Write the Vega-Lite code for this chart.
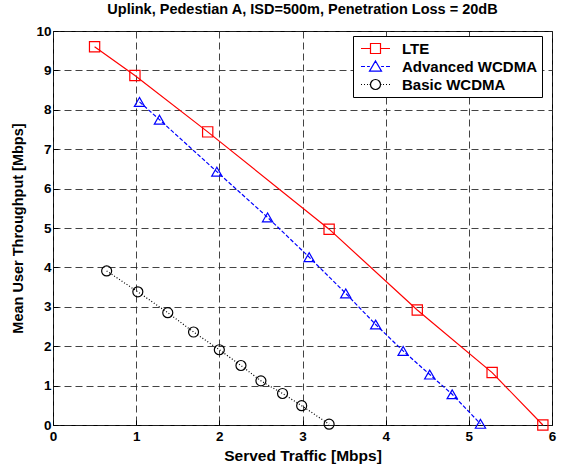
{
  "$schema": "https://vega.github.io/schema/vega-lite/v6.json",
  "width": 499,
  "height": 394,
  "autosize": "none",
  "padding": {"left": 53, "top": 31, "right": 10, "bottom": 41},
  "background": "white",
  "config": {
    "font": "Liberation Sans",
    "view": {"stroke": "black", "strokeWidth": 1}
  },
  "title": {
    "text": "Uplink, Pedestian A, ISD=500m, Penetration Loss = 20dB",
    "font": "Liberation Sans",
    "fontSize": 14.5,
    "fontWeight": "bold",
    "color": "black",
    "offset": 7,
    "anchor": "middle"
  },
  "data": {
    "values": [
      {"series": "LTE", "x": 0.50, "y": 9.60},
      {"series": "LTE", "x": 0.985, "y": 8.87},
      {"series": "LTE", "x": 1.86, "y": 7.44},
      {"series": "LTE", "x": 3.32, "y": 4.97},
      {"series": "LTE", "x": 4.38, "y": 2.92},
      {"series": "LTE", "x": 5.28, "y": 1.33},
      {"series": "LTE", "x": 5.89, "y": 0.0},
      {"series": "Advanced WCDMA", "x": 1.04, "y": 8.20},
      {"series": "Advanced WCDMA", "x": 1.28, "y": 7.75},
      {"series": "Advanced WCDMA", "x": 1.97, "y": 6.43},
      {"series": "Advanced WCDMA", "x": 2.58, "y": 5.27},
      {"series": "Advanced WCDMA", "x": 3.08, "y": 4.26},
      {"series": "Advanced WCDMA", "x": 3.52, "y": 3.34},
      {"series": "Advanced WCDMA", "x": 3.88, "y": 2.55},
      {"series": "Advanced WCDMA", "x": 4.21, "y": 1.88},
      {"series": "Advanced WCDMA", "x": 4.53, "y": 1.28},
      {"series": "Advanced WCDMA", "x": 4.80, "y": 0.78},
      {"series": "Advanced WCDMA", "x": 5.14, "y": 0.03},
      {"series": "Basic WCDMA", "x": 0.645, "y": 3.91},
      {"series": "Basic WCDMA", "x": 1.02, "y": 3.38},
      {"series": "Basic WCDMA", "x": 1.38, "y": 2.85},
      {"series": "Basic WCDMA", "x": 1.69, "y": 2.36},
      {"series": "Basic WCDMA", "x": 2.00, "y": 1.91},
      {"series": "Basic WCDMA", "x": 2.26, "y": 1.51},
      {"series": "Basic WCDMA", "x": 2.50, "y": 1.12},
      {"series": "Basic WCDMA", "x": 2.76, "y": 0.80},
      {"series": "Basic WCDMA", "x": 2.99, "y": 0.49},
      {"series": "Basic WCDMA", "x": 3.32, "y": 0.02}
    ]
  },
  "encoding": {
    "x": {
      "field": "x", "type": "quantitative",
      "scale": {"domain": [0, 6], "nice": false, "zero": false},
      "axis": {
        "title": "Served Traffic [Mbps]",
        "values": [0, 1, 2, 3, 4, 5, 6],
        "format": "d",
        "grid": true, "gridColor": "#222", "gridDash": [7, 4], "gridOpacity": 0.85, "gridWidth": 1,
        "domain": false,
        "tickColor": "black", "tickSize": -5, "tickWidth": 1,
        "labelFont": "Liberation Sans", "labelFontSize": 13.5, "labelFontWeight": "bold", "labelColor": "black",
        "labelPadding": 9,
        "labelFlush": false,
        "titleFont": "Liberation Sans", "titleFontSize": 15.5, "titleFontWeight": "bold", "titleColor": "black",
        "titlePadding": 6
      }
    },
    "y": {
      "field": "y", "type": "quantitative",
      "scale": {"domain": [0, 10], "nice": false, "zero": false},
      "axis": {
        "title": "Mean User Throughput [Mbps]",
        "values": [0, 1, 2, 3, 4, 5, 6, 7, 8, 9, 10],
        "format": "d",
        "grid": true, "gridColor": "#222", "gridDash": [7, 4], "gridOpacity": 0.85, "gridWidth": 1,
        "domain": false,
        "tickColor": "black", "tickSize": -5, "tickWidth": 1,
        "labelFont": "Liberation Sans", "labelFontSize": 13.5, "labelFontWeight": "bold", "labelColor": "black",
        "labelPadding": 7,
        "labelFlush": false,
        "titleFont": "Liberation Sans", "titleFontSize": 14.5, "titleFontWeight": "bold", "titleColor": "black",
        "titlePadding": 10
      }
    },
    "color": {
      "field": "series", "type": "nominal",
      "scale": {"domain": ["LTE", "Advanced WCDMA", "Basic WCDMA"], "range": ["#ff0000", "#0000ff", "#000000"]},
      "legend": {
        "title": null,
        "orient": "none",
        "legendX": 300,
        "legendY": 5,
        "fillColor": "white",
        "strokeColor": "black",
        "padding": 4,
        "labelFont": "Liberation Sans", "labelFontSize": 15, "labelFontWeight": "bold", "labelColor": "black",
        "labelExpr": "datum.label + '   '",
        "labelOffset": 18,
        "symbolSize": 225,
        "symbolStrokeWidth": 1.2,
        "rowPadding": 1,
        "symbolOffset": 10,
        "encode": {
          "symbols": {
            "update": {
              "shape": {"signal": "datum.value === 'LTE' ? 'M-1.933,0H-0.667M0.667,0H1.933M-0.667,-0.667H0.667V0.667H-0.667Z' : datum.value === 'Advanced WCDMA' ? 'M-1.933,0H-1.4M-1.13,0H-0.75M0.75,0H1.13M1.4,0H1.933M0,-0.73L0.8,0.62H-0.8Z' : 'M-1.933,0H-1.8M-1.53,0H-1.4M-1.13,0H-1.0M-0.8,0H-0.7M0.7,0H0.8M1.0,0H1.13M1.4,0H1.53M1.8,0H1.933M0.667,0A0.667,0.667,0,1,1,-0.667,0A0.667,0.667,0,1,1,0.667,0Z'"},
              "fill": {"value": "transparent"},
              "stroke": {"scale": "color", "field": "value"},
              "strokeWidth": {"value": 1.2},
              "strokeDash": {"value": []},
              "size": {"value": 225},
              "opacity": {"value": 1}
            }
          }
        }
      }
    }
  },
  "layer": [
    {
      "transform": [{"filter": "datum.series === 'LTE'"}],
      "mark": {"type": "line", "strokeWidth": 1.2},
      "encoding": {"order": {"field": "x", "type": "quantitative"}}
    },
    {
      "transform": [{"filter": "datum.series === 'Advanced WCDMA'"}],
      "mark": {"type": "line", "strokeWidth": 1.2, "strokeDash": [4, 2]},
      "encoding": {"order": {"field": "x", "type": "quantitative"}}
    },
    {
      "transform": [{"filter": "datum.series === 'Basic WCDMA'"}],
      "mark": {"type": "line", "strokeWidth": 1.2, "strokeDash": [1, 2]},
      "encoding": {"order": {"field": "x", "type": "quantitative"}}
    },
    {
      "transform": [{"filter": "datum.series === 'LTE'"}],
      "mark": {"type": "point", "shape": "square", "filled": false, "fill": "transparent", "size": 105, "strokeWidth": 1.2, "opacity": 1}
    },
    {
      "transform": [{"filter": "datum.series === 'Advanced WCDMA'"}],
      "mark": {"type": "point", "shape": "triangle-up", "filled": false, "fill": "transparent", "size": 105, "strokeWidth": 1.2, "opacity": 1}
    },
    {
      "transform": [{"filter": "datum.series === 'Basic WCDMA'"}],
      "mark": {"type": "point", "shape": "circle", "filled": false, "fill": "transparent", "size": 100, "strokeWidth": 1.2, "opacity": 1}
    }
  ]
}
